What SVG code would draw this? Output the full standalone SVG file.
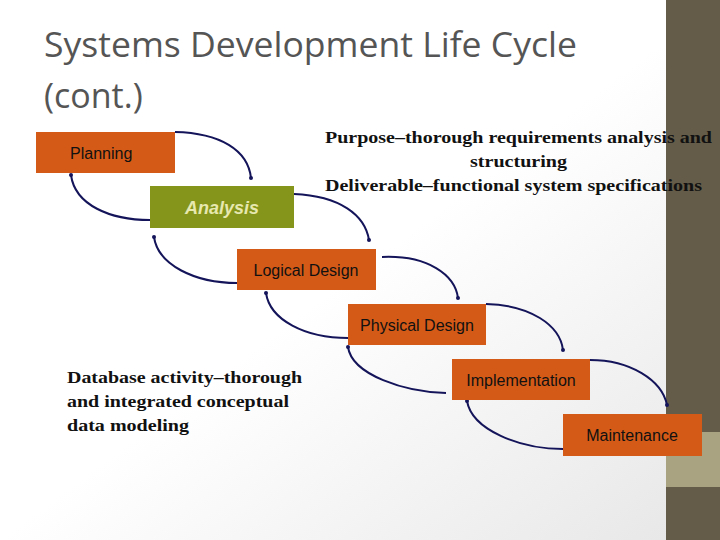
<svg xmlns="http://www.w3.org/2000/svg" width="720" height="540" viewBox="0 0 720 540">
<defs>
<linearGradient id="bg" x1="0" y1="0" x2="1" y2="1"><stop offset="0.5" stop-color="#ffffff"/><stop offset="1" stop-color="#e6e6e6"/></linearGradient>
<marker id="dot" markerWidth="4" markerHeight="4" refX="2" refY="2" markerUnits="userSpaceOnUse"><circle cx="2" cy="2" r="2" fill="#14145a"/></marker>
</defs>
<style>
.box{fill:#d45a17}
.lbl{font-family:"Liberation Sans",Arial,sans-serif;font-size:16px;fill:#111}
.c{fill:none;stroke:#14145a;stroke-width:2;marker-end:url(#dot)}
.note{font-family:"Liberation Serif","Times New Roman",serif;font-size:17px;font-weight:bold;fill:#111}
</style>
<rect width="720" height="540" fill="url(#bg)"/>
<rect x="666" y="0" width="54" height="540" fill="#645c48"/>
<rect x="666" y="432" width="54" height="55" fill="#a9a381"/>
<text x="44" y="57" font-family="Open Sans,Liberation Sans,sans-serif" font-size="34" fill="#555" textLength="533" lengthAdjust="spacingAndGlyphs">Systems Development Life Cycle</text>
<text x="44" y="108" font-family="Open Sans,Liberation Sans,sans-serif" font-size="34" fill="#555">(cont.)</text>
<g id="connectors">
<path class="c" d="M175,132 C220,133 248,150 251,178"/>
<path class="c" d="M294,194 C340,196 365,215 369,240"/>
<path class="c" d="M382,257 C428,255 455,275 458,298"/>
<path class="c" d="M486,304 C530,305 560,325 563,350"/>
<path class="c" d="M590,360 C630,360 662,380 667,405"/>
<path class="c" d="M150,220 C110,220 75,205 71,175"/>
<path class="c" d="M237,283 C195,283 158,265 154,237"/>
<path class="c" d="M348,338 C305,338 270,320 266,293"/>
<path class="c" d="M446,393 C405,392 352,375 348,347"/>
<path class="c" d="M563,449 C520,449 472,430 467,401"/>
</g>
<g id="planning"><rect class="box" x="36" y="132" width="139" height="41"/><text class="lbl" x="70" y="159">Planning</text></g>
<g id="analysis"><rect x="150" y="186" width="144" height="42" fill="#85941a"/><text x="222" y="214" text-anchor="middle" font-family="Liberation Sans,Arial,sans-serif" font-size="18" font-weight="bold" font-style="italic" fill="#e6e8b0">Analysis</text></g>
<g id="logical"><rect class="box" x="237" y="249" width="139" height="41"/><text class="lbl" x="306" y="276" text-anchor="middle">Logical Design</text></g>
<g id="physical"><rect class="box" x="348" y="304" width="138" height="41"/><text class="lbl" x="417" y="331" text-anchor="middle">Physical Design</text></g>
<g id="implementation"><rect class="box" x="452" y="359" width="138" height="41"/><text class="lbl" x="521" y="386" text-anchor="middle">Implementation</text></g>
<g id="maintenance"><rect class="box" x="563" y="414" width="139" height="42"/><text class="lbl" x="632" y="441" text-anchor="middle">Maintenance</text></g>
<text class="note" x="325" y="143" textLength="387" lengthAdjust="spacingAndGlyphs">Purpose–thorough requirements analysis and</text>
<text class="note" x="470" y="167" textLength="97" lengthAdjust="spacingAndGlyphs">structuring</text>
<text class="note" x="325" y="191" textLength="377" lengthAdjust="spacingAndGlyphs">Deliverable–functional system specifications</text>
<text class="note" x="67" y="383" textLength="235" lengthAdjust="spacingAndGlyphs">Database activity–thorough</text>
<text class="note" x="67" y="407" textLength="222" lengthAdjust="spacingAndGlyphs">and integrated conceptual</text>
<text class="note" x="67" y="431" textLength="122" lengthAdjust="spacingAndGlyphs">data modeling</text>
</svg>
